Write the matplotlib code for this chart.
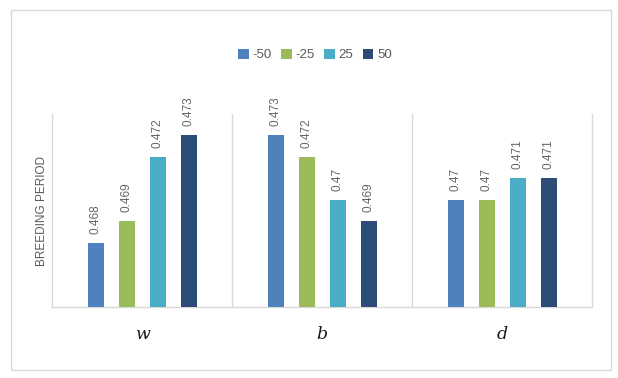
import matplotlib
matplotlib.use("Agg")
import matplotlib.pyplot as plt
from matplotlib.patches import Rectangle
import numpy as np

categories = ["w", "b", "d"]
series_names = ["-50", "-25", "25", "50"]
values = {
    "-50": [0.468, 0.473, 0.470],
    "-25": [0.469, 0.472, 0.470],
    "25": [0.472, 0.470, 0.471],
    "50": [0.473, 0.469, 0.471],
}
labels = {
    "-50": ["0.468", "0.473", "0.47"],
    "-25": ["0.469", "0.472", "0.47"],
    "25": ["0.472", "0.47", "0.471"],
    "50": ["0.473", "0.469", "0.471"],
}
colors = ["#4F81BD", "#9BBB59", "#4BACC6", "#2C4D75"]

plt.rcParams['font.family'] = ['Liberation Sans', 'DejaVu Sans']
fig = plt.figure(figsize=(6.18, 3.78), dpi=100)
ax = fig.add_axes([52/618, 71/378, 540/618, 193/378])

x = np.arange(len(categories))
spacing = 31/180
width = 16/180
for i, name in enumerate(series_names):
    off = (i - 1.5) * spacing
    bars = ax.bar(x + off, values[name], width, bottom=0, color=colors[i],
                  label=name, zorder=3)
    for xi, v, lab in zip(x + off, values[name], labels[name]):
        ax.annotate(lab, (xi, v), xytext=(0, 6.5), textcoords="offset points",
                    rotation=90, ha="center", va="bottom", fontsize=8.5,
                    color="#666666")

ax.set_ylim(0.465, 0.474)
ax.set_xlim(-0.5, 2.5)
ax.set_yticks([])
ax.set_xticks(x)
ax.set_xticklabels(categories, fontsize=12.5, fontstyle="italic",
                   family="DejaVu Serif", color="#1a1a1a")
ax.tick_params(axis="x", length=0, pad=14)
for s in ["left", "right", "bottom"]:
    ax.spines[s].set_color("#D9D9D9")
    ax.spines[s].set_linewidth(1)
ax.spines["top"].set_visible(False)
for b in [0.5, 1.5]:
    ax.axvline(b, color="#D9D9D9", lw=1, zorder=1)

ax.set_ylabel("BREEDING PERIOD", fontsize=8.5, color="#595959", labelpad=3)

leg = fig.legend(loc="center", bbox_to_anchor=(315/618, 1 - 55/378), ncol=4,
                 frameon=False, fontsize=9.5, handlelength=0.8, handleheight=0.8,
                 handletextpad=0.3, columnspacing=0.7)
for t in leg.get_texts():
    t.set_color("#595959")

fig.patches.append(Rectangle((11/618, 8/378), 600/618, 360/378,
                             transform=fig.transFigure, fill=False,
                             edgecolor="#D9D9D9", lw=1))

fig.savefig("out.png", dpi=100, facecolor="white")
